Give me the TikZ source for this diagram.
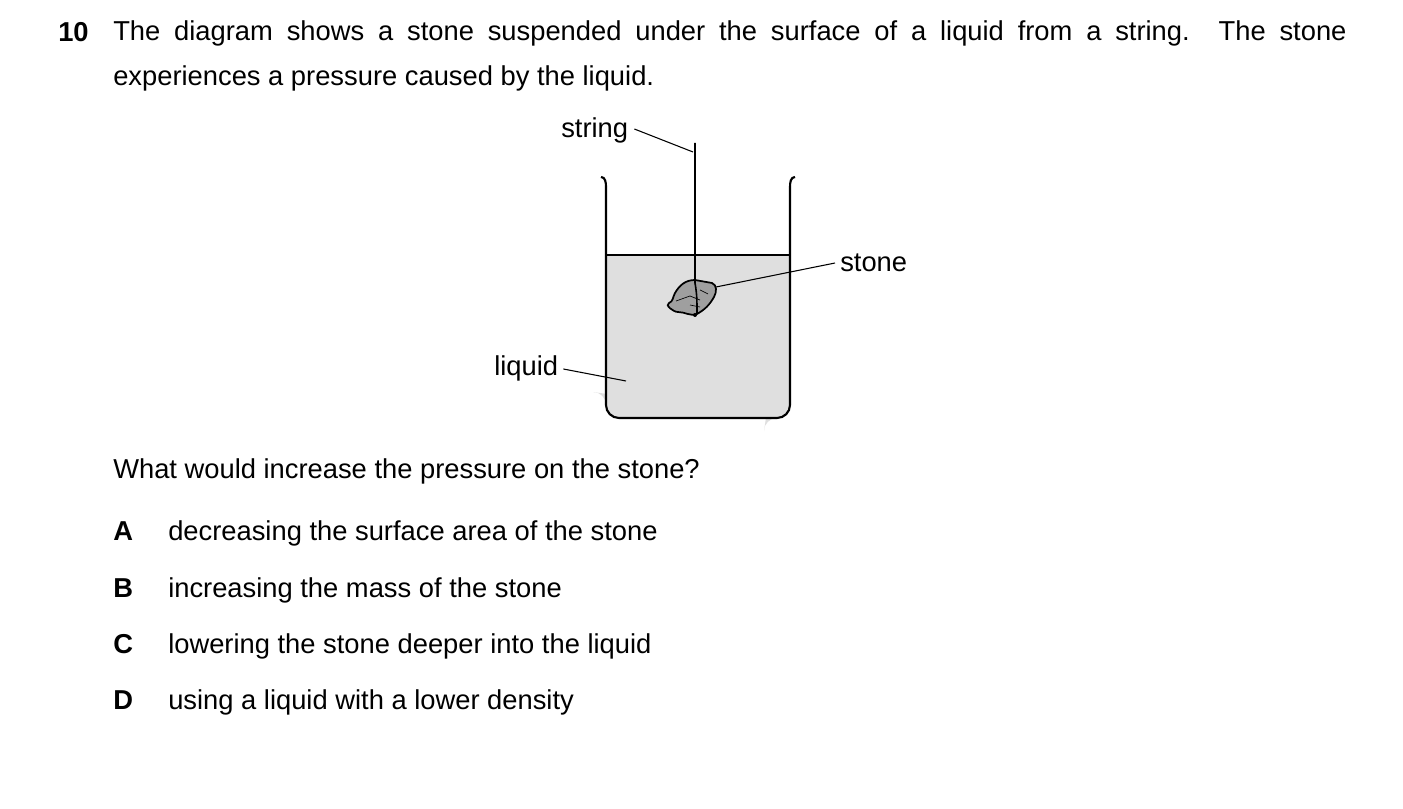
\documentclass[tikz,border=0pt]{standalone}
\usepackage{fontspec}
\setmainfont{Liberation Sans}
\begin{document}
\begin{tikzpicture}[x=0.75pt,y=-0.75pt,
  txt/.style={anchor=base west,inner sep=0pt,font=\fontsize{20.5}{34}\selectfont},
  lead/.style={line width=0.8pt},
  wall/.style={line width=1.6pt,line join=round}]
\useasboundingbox (0,0) rectangle (1403,809);
\node[txt,font=\fontsize{20.5}{34}\selectfont\bfseries] (num) at (58,42) {10};
\node[txt,text width=925pt,align=justify,anchor=north west] (q) at (113,20)
 {The diagram shows a stone suspended under the surface of a liquid from a string. The stone\linebreak experiences a pressure caused by the liquid.};
% liquid
\fill[gray!25] (606,255) -- (606,405) arc (180:90:-13) -- (777,418) arc (90:0:-13) -- (790,255) -- cycle;
\fill[gray!25] (606,405) to[out=-90,in=180] (619,418) -- (777,418) to[out=0,in=-90] (790,405) -- (790,255) -- (606,255) -- cycle;
\draw[wall] (790,255) -- (606,255);
\draw[wall] (601,177) to[out=0,in=90] (606,187) -- (606,405) to[out=-90,in=180] (619,418) -- (777,418) to[out=0,in=-90] (790,405) -- (790,187) to[out=90,in=180] (795,177);
% stone
\coordinate (s) at (693,297);
\draw[line width=1.3pt,fill=gray!75] (675,293) to[out=60,in=180] (695,280) -- (712,283) to[out=-20,in=60] (714,297) to[out=-120,in=30] (697,314) to[out=200,in=0] (678,312) to[out=180,in=200] (669,303) to[out=20,in=240] cycle;
\draw[line width=0.5pt] (676,301) -- (690,296) -- (700,300) (700,290) -- (708,294) (690,305)--(700,307);
\draw[line width=1.2pt] (695,143) -- (695,283) to[out=-80,in=90] (697,314);
\fill (695,315) circle (2);
% labels
\node[txt] (lstring) at (561,138) {string};
\node[txt] (lstone) at (840,272) {stone};
\node[txt] (lliquid) at (494,375) {liquid};
\coordinate (pstring) at (693,152);
\coordinate (pstone) at (716,287);
\coordinate (pliquid) at (626,381);
\draw[lead] (lstring.base east) ++(6,-9) -- (pstring);
\draw[lead] (lstone.base west) ++(-5,-9) -- (pstone);
\draw[lead] (lliquid.base east) ++(5,-6) -- (pliquid);
\node[txt] (qq) at (113,478) {What would increase the pressure on the stone?};
\foreach \l/\t/\y in {A/decreasing the surface area of the stone/540, B/increasing the mass of the stone/597, C/lowering the stone deeper into the liquid/653, D/using a liquid with a lower density/709}{
  \node[txt,font=\fontsize{20.5}{34}\selectfont\bfseries] (opt\l) at (113,\y) {\l};
  \node[txt] (txt\l) at (168,\y) {\t};
}
\end{tikzpicture}
\end{document}
